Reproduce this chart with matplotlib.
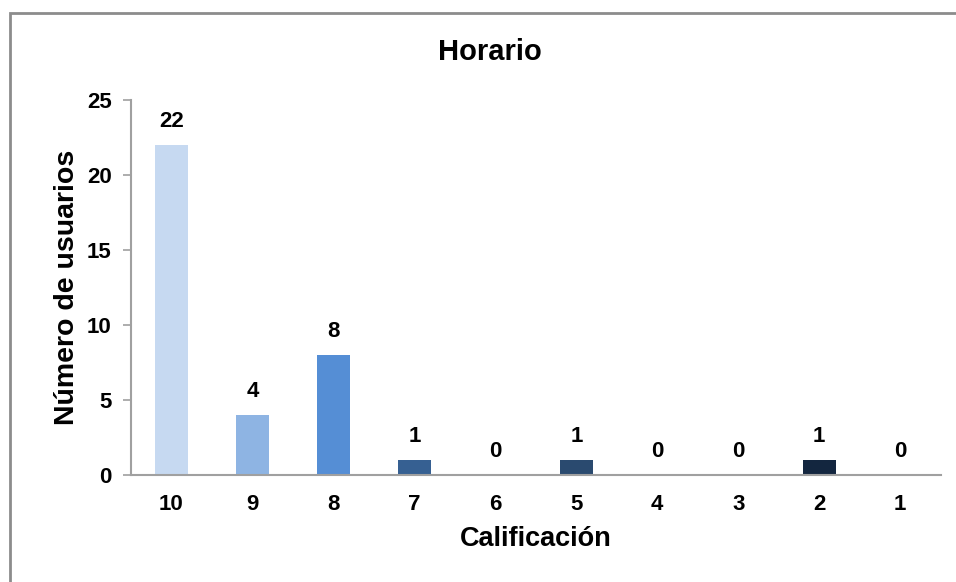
import matplotlib
matplotlib.use("Agg")
import matplotlib.pyplot as plt
from matplotlib.patches import Rectangle

plt.rcParams["font.family"] = ["Liberation Sans", "DejaVu Sans"]
plt.rcParams["font.weight"] = "bold"

calificaciones = ["10", "9", "8", "7", "6", "5", "4", "3", "2", "1"]
usuarios = [22, 4, 8, 1, 0, 1, 0, 0, 1, 0]
colores = ["#C6D9F1", "#8EB4E3", "#558ED5", "#366092", "#2E5077",
           "#2A4A6F", "#203A58", "#17304F", "#13263F", "#0F1F33"]

fig = plt.figure(figsize=(9.56, 5.82), dpi=100)
ax = fig.add_axes([0.137, 0.184, 0.847, 0.644])

# outer chart frame
fig.patches.append(Rectangle((9.5 / 956, -0.01), 1.01, 1 - 12.5 / 582 + 0.01,
                             transform=fig.transFigure, fill=False,
                             edgecolor="#8C8C8C", linewidth=2))

x = range(len(calificaciones))
bars = ax.bar(x, usuarios, width=0.41, color=colores)
for b, v in zip(bars, usuarios):
    ax.text(b.get_x() + b.get_width() / 2, v + 0.85, str(v),
            ha="center", va="bottom", fontsize=16, fontweight="bold")

ax.set_xlim(-0.5, len(calificaciones) - 0.5)
ax.set_ylim(0, 25)
ax.set_yticks([0, 5, 10, 15, 20, 25])
ax.set_xticks(list(x))
ax.set_xticklabels(calificaciones)

for side in ["top", "right"]:
    ax.spines[side].set_visible(False)
for side in ["left", "bottom"]:
    ax.spines[side].set_color("#A0A0A0")
    ax.spines[side].set_linewidth(1.5)

ax.tick_params(axis="y", length=6, width=1.2, color="#A0A0A0",
               labelsize=16, pad=8)
ax.tick_params(axis="x", length=0, labelsize=16, pad=14)

ax.set_xlabel("Calificación", fontsize=19.5, fontweight="bold", labelpad=8)
ax.set_ylabel("Número de usuarios", fontsize=20.5, fontweight="bold", labelpad=5)
fig.text(490 / 956, 1 - 52 / 582, "Horario", fontsize=21, fontweight="bold",
         ha="center", va="center")

fig.savefig("out.png", dpi=100)
